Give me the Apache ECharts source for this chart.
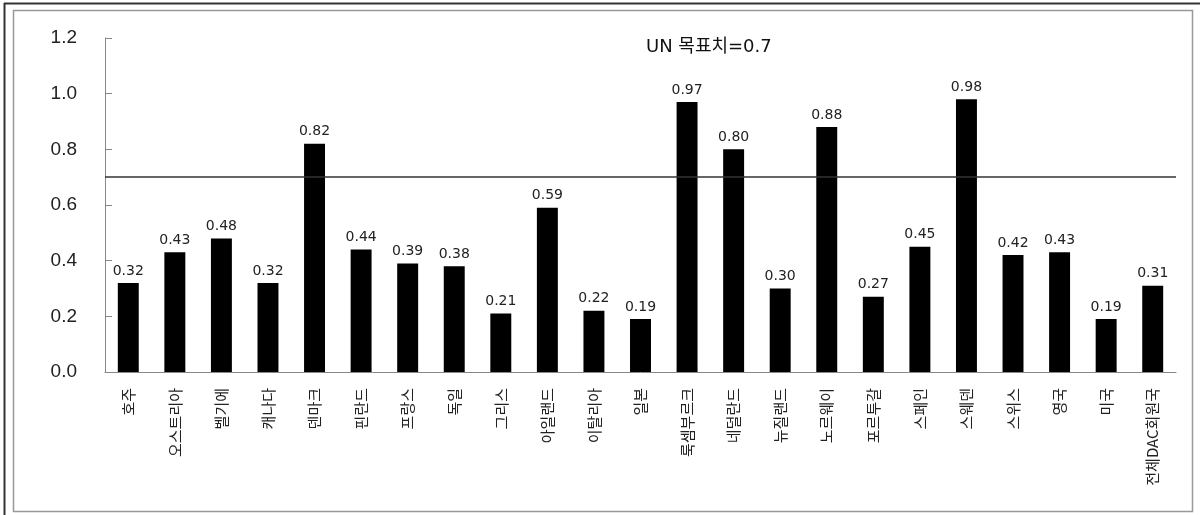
<!DOCTYPE html>
<html>
<head>
<meta charset="utf-8">
<script src="https://cdn.jsdelivr.net/npm/echarts@6/dist/echarts.min.js"></script>
<style>
  html, body { margin: 0; padding: 0; background: #fff; }
  #chart { width: 1200px; height: 515px; }
</style>
</head>
<body>
<div id="chart"></div>
<script>
// ODA/GNI 비율 (DAC 회원국)
const countries = ['호주', '오스트리아', '벨기에', '캐나다', '덴마크', '핀란드', '프랑스', '독일',
  '그리스', '아일랜드', '이탈리아', '일본', '룩셈부르크', '네덜란드', '뉴질랜드', '노르웨이',
  '포르투갈', '스페인', '스웨덴', '스위스', '영국', '미국', '전체DAC회원국'];
const ratios = [0.32, 0.43, 0.48, 0.32, 0.82, 0.44, 0.39, 0.38, 0.21, 0.59, 0.22, 0.19,
  0.97, 0.80, 0.30, 0.88, 0.27, 0.45, 0.98, 0.42, 0.43, 0.19, 0.31];
const unTarget = 0.7;
const targetLabel = 'UN 목표치=0.7';

const chart = echarts.init(document.getElementById('chart'));
const numFont = '"DejaVu Sans", "Liberation Sans", sans-serif';
const krFont = '"Noto Sans CJK KR", "Noto Sans", sans-serif';

chart.setOption({
  backgroundColor: '#fff',
  animation: false,
  grid: { left: 105, right: 24, top: 38, bottom: 143 },
  title: {
    text: targetLabel,
    left: 641,
    top: 33,
    textStyle: { fontFamily: '"DejaVu Sans", "Noto Sans CJK KR", sans-serif', fontSize: 18, fontWeight: 'normal', color: '#111' }
  },
  graphic: [
    { type: 'line', shape: { x1: 4, y1: 3.5, x2: 1200, y2: 3.5 }, style: { stroke: '#333', lineWidth: 2 }, silent: true },
    { type: 'line', shape: { x1: 4.5, y1: 3, x2: 4.5, y2: 515 }, style: { stroke: '#333', lineWidth: 2 }, silent: true },
    { type: 'rect', shape: { x: 13.5, y: 10.5, width: 1179, height: 501 }, style: { fill: 'none', stroke: '#999', lineWidth: 1.5 }, silent: true }
  ],
  xAxis: {
    type: 'category',
    data: countries,
    axisLine: { lineStyle: { color: '#888', width: 1 } },
    axisTick: { inside: true, length: 5, lineStyle: { color: '#888' } },
    axisLabel: {
      rotate: 90, margin: 16, fontSize: 15, color: '#222', fontFamily: krFont, interval: 0
    }
  },
  yAxis: {
    type: 'value',
    min: 0, max: 1.2, interval: 0.2,
    splitLine: { show: false },
    axisLine: { show: true, lineStyle: { color: '#888', width: 1 } },
    axisTick: { show: true, inside: true, length: 7, lineStyle: { color: '#888' } },
    axisLabel: {
      margin: 28, fontSize: 19, color: '#222', fontFamily: '"Liberation Sans", Arial, sans-serif',
      formatter: v => v.toFixed(1)
    }
  },
  series: [{
    type: 'bar',
    data: ratios,
    barWidth: '45%',
    itemStyle: { color: '#000' },
    label: {
      show: true, position: 'top', distance: 5,
      fontSize: 14, color: '#222', fontFamily: numFont,
      formatter: p => p.value.toFixed(2)
    },
    markLine: {
      silent: true,
      symbol: 'none',
      label: { show: false },
      lineStyle: { color: '#333', width: 1.5, type: 'solid' },
      data: [{ yAxis: unTarget }]
    }
  }]
});
</script>
</body>
</html>
